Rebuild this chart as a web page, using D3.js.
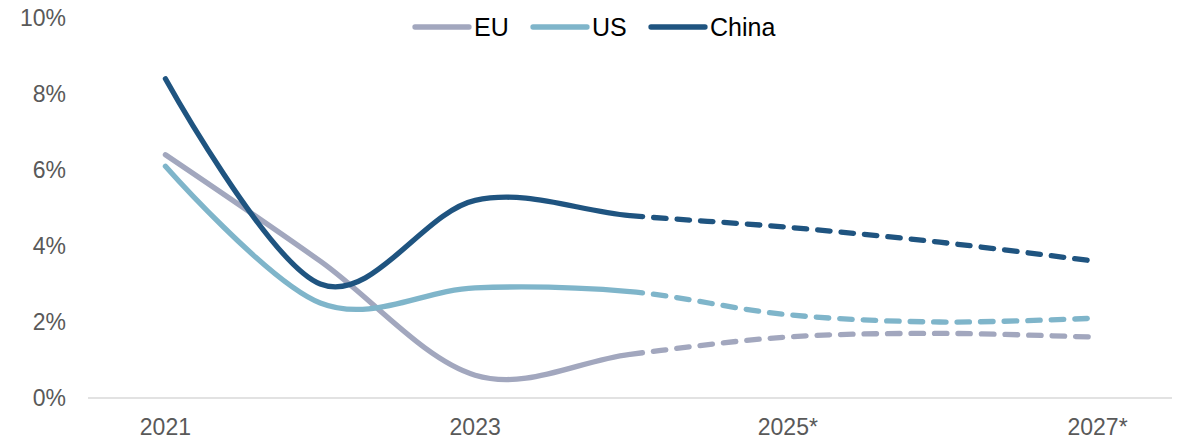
<!DOCTYPE html>
<html>
<head>
<meta charset="utf-8">
<script src="https://cdn.jsdelivr.net/npm/d3@7"></script>
<style>
  html, body { margin: 0; padding: 0; background: #fff; }
  svg { display: block; font-family: "Liberation Sans", Arial, sans-serif; }
</style>
</head>
<body>
<svg id="chart" width="1178" height="440"></svg>
<script>
const years = [2021, 2022, 2023, 2024, 2025, 2026, 2027];
const forecastStart = 2024;
const xTickYears = [2021, 2023, 2025, 2027];
const xTickLabels = ["2021", "2023", "2025*", "2027*"];
const yTicks = [0, 2, 4, 6, 8, 10];
const seriesNames = ["EU", "US", "China"];
const seriesColors = ["#A2A7BE", "#7FB5CA", "#1F5480"];
const euValues = [6.4, 3.6, 0.6, 1.15, 1.6, 1.7, 1.6];
const usValues = [6.1, 2.5, 2.9, 2.8, 2.2, 2.0, 2.1];
const chinaValues = [8.4, 3.0, 5.2, 4.8, 4.5, 4.1, 3.6];
const seriesValues = [euValues, usValues, chinaValues];

const svg = d3.select("#chart");
const x = d3.scaleLinear().domain([2020.5, 2027.5]).range([88, 1172]);
const y = d3.scaleLinear().domain([0, 10]).range([398, 18]);

// y tick labels
svg.append("g").selectAll("text").data(yTicks).join("text")
  .attr("x", 66).attr("y", d => y(d) + 8.2)
  .attr("text-anchor", "end")
  .attr("font-size", 23).attr("fill", "#595959")
  .text(d => d + "%");

// x axis line
svg.append("line")
  .attr("x1", x.range()[0]).attr("x2", x.range()[1])
  .attr("y1", y(0)).attr("y2", y(0))
  .attr("stroke", "#D9D9D9").attr("stroke-width", 1.5);

// x tick labels
svg.append("g").selectAll("text").data(xTickYears).join("text")
  .attr("x", (d, i) => x(d) + (xTickLabels[i].endsWith("*") ? 3 : 0))
  .attr("y", 435)
  .attr("text-anchor", "middle")
  .attr("font-size", 23).attr("fill", "#595959")
  .text((d, i) => xTickLabels[i]);

const defs = svg.append("defs");
defs.append("clipPath").attr("id", "clipSolid").append("rect")
  .attr("x", 0).attr("y", 0).attr("width", x(forecastStart)).attr("height", 440);
defs.append("clipPath").attr("id", "clipDash").append("rect")
  .attr("x", x(forecastStart)).attr("y", 0).attr("width", 1178).attr("height", 440);

const line = d3.line()
  .x((d, i) => x(years[i]))
  .y(d => y(d))
  .curve(d3.curveCardinal.tension(0));

const strokeW = 5.3;
const dashLen = 12.5, gapLen = 11;
const g = svg.append("g");
seriesValues.forEach((vals, si) => {
  const dStr = line(vals);
  g.append("path").attr("d", dStr)
    .attr("fill", "none").attr("stroke", seriesColors[si])
    .attr("stroke-width", strokeW).attr("stroke-linecap", "round")
    .attr("stroke-linejoin", "round")
    .attr("clip-path", "url(#clipSolid)");
  const dp = g.append("path").attr("d", dStr)
    .attr("fill", "none").attr("stroke", seriesColors[si])
    .attr("stroke-width", strokeW).attr("stroke-linecap", "round")
    .attr("stroke-dasharray", dashLen + "," + gapLen)
    .attr("clip-path", "url(#clipDash)");
  // align the dash pattern so that it starts at the forecast boundary
  const node = dp.node();
  const total = node.getTotalLength();
  const target = x(forecastStart);
  let lo = 0, hi = total;
  for (let k = 0; k < 40; k++) {
    const mid = (lo + hi) / 2;
    if (node.getPointAtLength(mid).x < target) lo = mid; else hi = mid;
  }
  const period = dashLen + gapLen;
  const L = (lo + hi) / 2;
  dp.attr("stroke-dashoffset", period - (L % period));
});

// legend
const legendX = [415, 533, 651];
const lg = svg.append("g");
seriesNames.forEach((name, i) => {
  lg.append("line")
    .attr("x1", legendX[i]).attr("x2", legendX[i] + 54)
    .attr("y1", 27).attr("y2", 27)
    .attr("stroke", seriesColors[i]).attr("stroke-width", strokeW)
    .attr("stroke-linecap", "round");
  lg.append("text")
    .attr("x", legendX[i] + 59).attr("y", 36)
    .attr("font-size", 25).attr("fill", "#000")
    .text(name);
});
</script>
</body>
</html>
